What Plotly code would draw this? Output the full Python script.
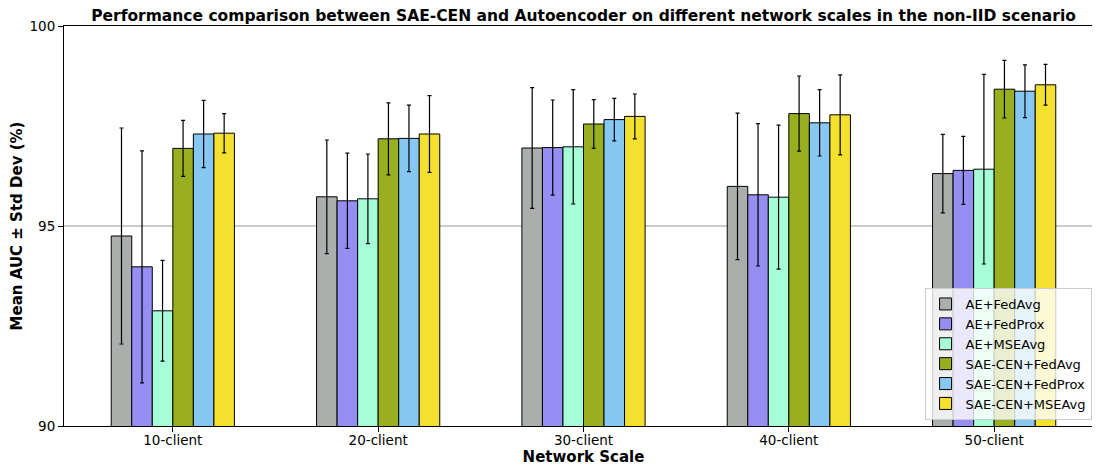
#import libraries for the visualization
from plotly import graph_objects as go

#network scales on the x axis
scales = ['10-client', '20-client', '30-client', '40-client', '50-client']

#mean AUC and std dev per method
ae_fedavg_mean = [94.75, 95.73, 96.95, 95.99, 96.31]
ae_fedavg_std = [2.70, 1.42, 1.51, 1.83, 0.98]
ae_fedprox_mean = [93.98, 95.63, 96.96, 95.78, 96.39]
ae_fedprox_std = [2.90, 1.19, 1.19, 1.78, 0.85]
ae_mseavg_mean = [92.88, 95.68, 96.98, 95.72, 96.42]
ae_mseavg_std = [1.26, 1.12, 1.43, 1.80, 2.37]
sae_fedavg_mean = [96.94, 97.18, 97.55, 97.81, 98.42]
sae_fedavg_std = [0.70, 0.90, 0.61, 0.94, 0.72]
sae_fedprox_mean = [97.30, 97.19, 97.66, 97.58, 98.37]
sae_fedprox_std = [0.84, 0.83, 0.53, 0.83, 0.66]
sae_mseavg_mean = [97.32, 97.30, 97.74, 97.78, 98.53]
sae_mseavg_std = [0.49, 0.96, 0.56, 1.00, 0.51]

methods = ['AE+FedAvg', 'AE+FedProx', 'AE+MSEAvg',
           'SAE-CEN+FedAvg', 'SAE-CEN+FedProx', 'SAE-CEN+MSEAvg']
means = [ae_fedavg_mean, ae_fedprox_mean, ae_mseavg_mean,
         sae_fedavg_mean, sae_fedprox_mean, sae_mseavg_mean]
stds = [ae_fedavg_std, ae_fedprox_std, ae_mseavg_std,
        sae_fedavg_std, sae_fedprox_std, sae_mseavg_std]
colors = ['#AAAFAC', '#978EF3', '#A6FDD8', '#9AAF1F', '#86C8F1', '#F4E02F']

font = 'DejaVu Sans'

fig = go.Figure()

#one bar trace per method, with std dev error bars
for name, m, s, c in zip(methods, means, stds, colors):
    fig.add_trace(go.Bar(
        x=scales, y=m, name=name,
        marker=dict(color=c, line=dict(color='black', width=1)),
        error_y=dict(type='data', array=s, color='black', thickness=1.2, width=2),
    ))

#note: the page body adds an 8px margin, so margins here are shifted by 8
fig.update_layout(
    width=1100, height=466,
    margin=dict(l=56, r=5, t=18, b=48),
    plot_bgcolor='white', paper_bgcolor='white',
    barmode='group', bargap=0.4, bargroupgap=0,
    font=dict(family=font, size=13.5, color='black'),
    title=dict(
        text='<b>Performance comparison between SAE-CEN and Autoencoder on different network scales in the non-IID scenario</b>',
        xref='paper', x=0.5, xanchor='center',
        yref='container', y=1.0, yanchor='top', pad=dict(t=2, b=0),
        font=dict(family=font, size=15.5, color='black'),
    ),
    legend=dict(
        x=0.989, xanchor='right', y=0.015, yanchor='bottom',
        bgcolor='rgba(255,255,255,0.8)', bordercolor='#cccccc', borderwidth=1,
        font=dict(family=font, size=13), tracegroupgap=0,
    ),
    showlegend=True,
)

fig.update_xaxes(
    range=[-0.53, 4.53], automargin=False,
    showline=True, linecolor='black', linewidth=1, mirror=True,
    ticks='outside', ticklen=5, tickcolor='black', ticklabelstandoff=-3,
    title=dict(text='<b>Network Scale</b>', font=dict(family=font, size=15), standoff=0),
)

fig.update_yaxes(
    range=[90, 100], tickvals=[90, 95, 100], automargin=False,
    showline=True, linecolor='black', linewidth=1,
    ticks='outside', ticklen=5, tickcolor='black',
    showgrid=True, gridcolor='#cccccc', gridwidth=1.5,
    title=dict(text='<b>Mean AUC ± Std Dev (%)</b>', font=dict(family=font, size=15), standoff=9),
)

fig.write_html("out.html")
